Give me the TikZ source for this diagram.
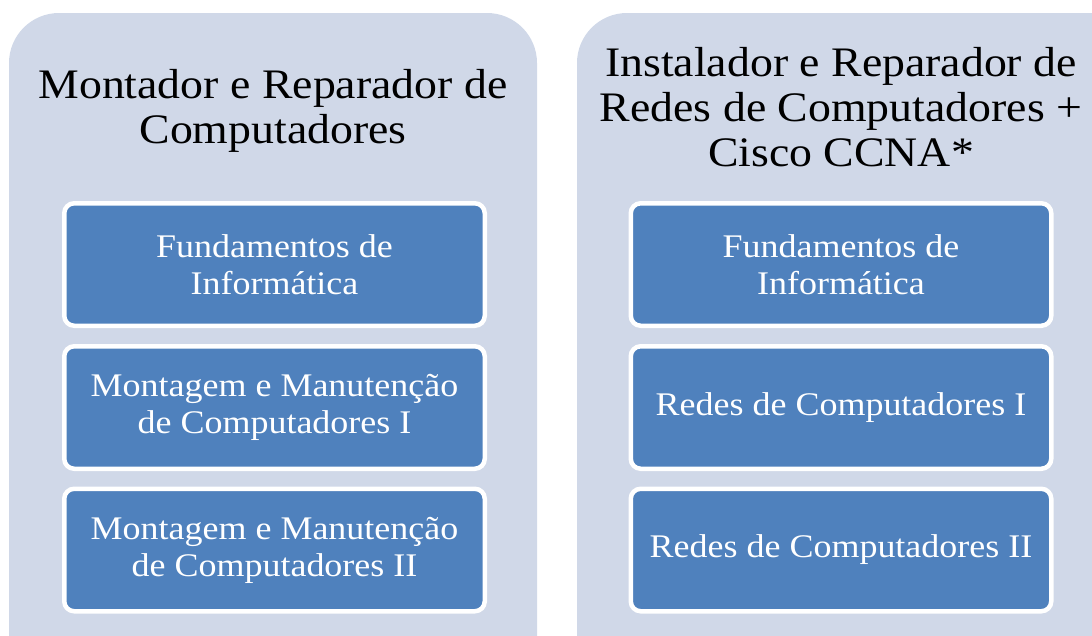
\documentclass[tikz,border=0pt]{standalone}
\usepackage{fontspec}
\setmainfont{Liberation Serif}[FakeStretch=1.09]
\definecolor{outerfill}{HTML}{D0D8E8}
\definecolor{innerfill}{HTML}{4F81BD}
\tikzset{
  outerbox/.style={fill=outerfill, draw=none, rounded corners=50pt},
  titletext/.style={align=center, text=black, font=\fontsize{42}{45}\selectfont, inner sep=0pt},
  coursebox/.style={fill=innerfill, draw=white, line width=4.5pt, rounded corners=10pt,
    minimum width=420.5pt, minimum height=122.5pt, inner sep=0pt, align=center,
    text=white, font=\fontsize{33}{37}\selectfont}
}
\begin{document}
\begin{tikzpicture}[x=1pt,y=-1pt]
\useasboundingbox (0,0) rectangle (1092,635);
\clip (0,0) rectangle (1092,635);
\fill[outerbox] (9,13) rectangle (537,720);
\fill[outerbox] (577,13) rectangle (1160,720);
\node[titletext] (t1) at (273,111) {Montador e Reparador de\\Computadores};
\node[titletext] (t2) at (841,107) {Instalador e Reparador de\\Redes de Computadores +\\Cisco CCNA*};
\node[coursebox] (a1) at (274.5,264.5) {Fundamentos de\\Informática};
\node[coursebox] (a2) at (274.5,407.5) {Montagem e Manutenção\\de Computadores I};
\node[coursebox] (a3) at (274.5,550) {Montagem e Manutenção\\de Computadores II};
\node[coursebox] (b1) at (841,264.5) {Fundamentos de\\Informática};
\node[coursebox] (b2) at (841,407.5) {Redes de Computadores I};
\node[coursebox] (b3) at (841,550) {Redes de Computadores II};
\end{tikzpicture}
\end{document}
